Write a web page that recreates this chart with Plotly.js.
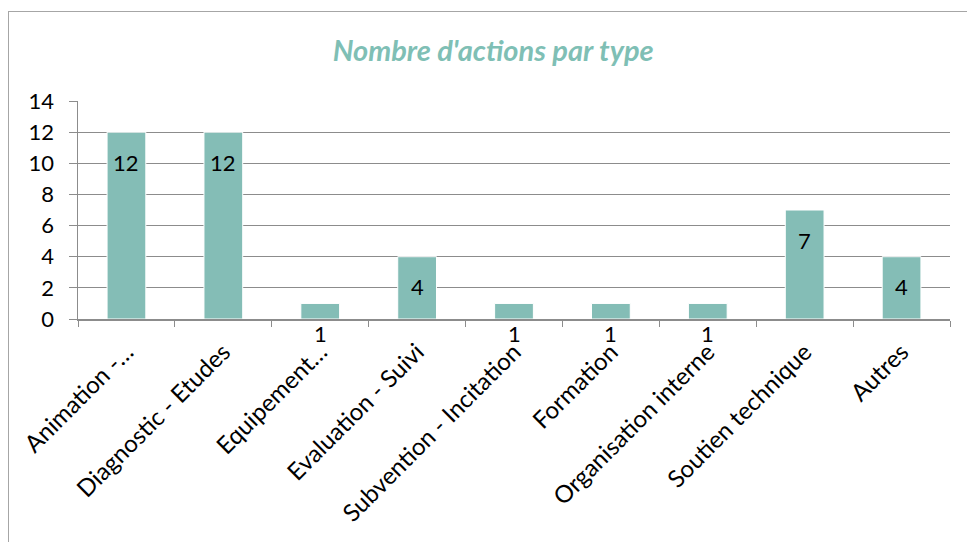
<!DOCTYPE html>
<html>
<head>
<meta charset="utf-8">
<script src="https://cdn.plot.ly/plotly-3.0.1.min.js"></script>
<style>
html,body{margin:0;padding:0;background:#fff;}
#chart{width:967px;height:542px;position:absolute;left:0;top:0;}
#frame{position:absolute;left:8px;top:11px;width:980px;height:560px;border-left:1.5px solid #a6a6a6;border-top:1.5px solid #a6a6a6;pointer-events:none;}
</style>
</head>
<body>
<div id="chart"></div>
<div id="frame"></div>
<script>
const categories = ["Animation -…", "Diagnostic - Etudes", "Equipement…", "Evaluation - Suivi", "Subvention - Incitation", "Formation", "Organisation interne", "Soutien technique", "Autres"];
const values = [12, 12, 1, 4, 1, 1, 1, 7, 4];
const yTicks = [0, 2, 4, 6, 8, 10, 12, 14];

const font = "Lato, 'Open Sans', 'Liberation Sans', sans-serif";

const annotations = categories.map((c, i) => ({
  x: c, y: values[i], xref: 'x', yref: 'y',
  text: String(values[i]), showarrow: false, yshift: -30,
  font: {family: font, size: 22, color: '#000'}
}));

Plotly.newPlot('chart', [{
  type: 'bar', x: categories, y: values,
  marker: {color: '#84bdb6', line: {color: '#ffffff', width: 1}},
  hoverinfo: 'none'
}], {
  width: 967, height: 542,
  margin: {l: 78, r: 17, t: 101, b: 223},
  paper_bgcolor: '#fff', plot_bgcolor: '#fff',
  bargap: 0.6,
  showlegend: false,
  title: {text: "<b><i>Nombre d'actions par type</i></b>", x: 0.51, xanchor: 'center', y: 0.907, yanchor: 'middle',
          font: {family: font, size: 29, color: '#7fbfb5'}},
  xaxis: {type: 'category', tickangle: -45, tickson: 'boundaries', ticks: 'outside', ticklen: 6, tickcolor: '#8c8c8c',
          showline: true, linecolor: '#8c8c8c', linewidth: 1.5, showgrid: false, ticklabelstandoff: 8,
          tickfont: {family: font, size: 24, color: '#000'}, fixedrange: true},
  yaxis: {range: [0, 14], tickvals: yTicks, ticks: 'outside', ticklen: 8, tickcolor: '#8c8c8c',
          showline: true, linecolor: '#8c8c8c', linewidth: 1.5, showgrid: true, gridcolor: '#8c8c8c', gridwidth: 1.2,
          zeroline: false, ticklabelstandoff: 10, tickfont: {family: font, size: 22, color: '#000'}, fixedrange: true},
  annotations: annotations
}, {displayModeBar: false, staticPlot: true});
</script>
</body>
</html>
